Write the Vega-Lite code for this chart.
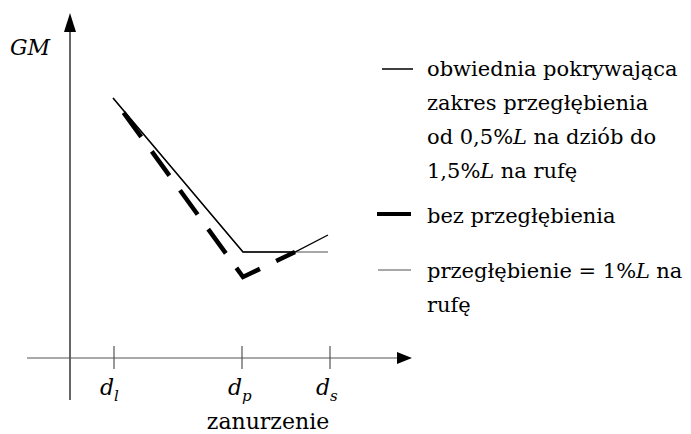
{
  "$schema": "https://vega.github.io/schema/vega-lite/v6.json",
  "width": 691,
  "height": 434,
  "autosize": "none",
  "padding": 0,
  "background": "white",
  "config": {"view": {"stroke": null}},
  "datasets": {
    "curves": [
      {"s": "trym1", "i": 0, "x": 4.3, "y": 26.0},
      {"s": "trym1", "i": 1, "x": 17.3, "y": 10.6},
      {"s": "trym1", "i": 2, "x": 25.8, "y": 10.6},
      {"s": "bez", "i": 0, "x": 4.3, "y": 26.0},
      {"s": "bez", "i": 1, "x": 17.3, "y": 8.1},
      {"s": "bez", "i": 2, "x": 22.5, "y": 10.6},
      {"s": "obwiednia", "i": 0, "x": 4.3, "y": 26.0},
      {"s": "obwiednia", "i": 1, "x": 17.3, "y": 10.6},
      {"s": "obwiednia", "i": 2, "x": 22.5, "y": 10.6},
      {"s": "obwiednia", "i": 3, "x": 25.8, "y": 12.3}
    ],
    "rules": [
      {"k": "yaxis", "x": 0, "x2": 0, "y": -4.2, "y2": 32.8},
      {"k": "xaxis", "x": -4.3, "x2": 32.7, "y": 0, "y2": 0},
      {"k": "tick", "x": 4.4, "x2": 4.4, "y": -1.1, "y2": 1.2},
      {"k": "tick", "x": 17.2, "x2": 17.2, "y": -1.1, "y2": 1.2},
      {"k": "tick", "x": 26.0, "x2": 26.0, "y": -1.1, "y2": 1.2},
      {"k": "obwiednia", "x": 31.2, "x2": 34.3, "y": 28.9, "y2": 28.9},
      {"k": "bez", "x": 30.7, "x2": 34.1, "y": 14.4, "y2": 14.4},
      {"k": "trym1", "x": 30.8, "x2": 34.1, "y": 8.8, "y2": 8.8}
    ],
    "arrows": [
      {"k": "up", "x": 0, "y": 33.55},
      {"k": "right", "x": 33.45, "y": 0}
    ],
    "labels": [
      {"k": "gm", "t": "GM", "x": -6.0, "y": 30.3},
      {"k": "tickd", "t": "d", "x": 4.4, "y": -3.7},
      {"k": "tickd", "t": "d", "x": 17.2, "y": -3.7},
      {"k": "tickd", "t": "d", "x": 26.0, "y": -3.7},
      {"k": "sub", "t": "l", "x": 4.4, "y": -4.3},
      {"k": "sub", "t": "p", "x": 17.2, "y": -4.3},
      {"k": "sub", "t": "s", "x": 26.0, "y": -4.3},
      {"k": "title", "t": "zanurzenie", "x": 19.8, "y": -7.1},
      {"k": "text", "t": "obwiednia pokrywająca", "x": 35.7, "y": 28.2},
      {"k": "text", "t": "zakres przegłębienia", "x": 35.7, "y": 24.8},
      {"k": "text", "t": "od 0,5%", "x": 35.7, "y": 21.4},
      {"k": "math", "t": "L", "x": 44.3, "y": 21.4},
      {"k": "text", "t": "na dziób do", "x": 46.34, "y": 21.4},
      {"k": "text", "t": "1,5%", "x": 35.7, "y": 18.0},
      {"k": "math", "t": "L", "x": 41.03, "y": 18.0},
      {"k": "text", "t": "na rufę", "x": 43.07, "y": 18.0},
      {"k": "text", "t": "bez przegłębienia", "x": 35.7, "y": 13.5},
      {"k": "text", "t": "przegłębienie = 1%", "x": 35.7, "y": 8.0},
      {"k": "math", "t": "L", "x": 56.59, "y": 8.0},
      {"k": "text", "t": "na", "x": 58.63, "y": 8.0},
      {"k": "text", "t": "rufę", "x": 35.7, "y": 4.6}
    ]
  },
  "encoding": {
    "x": {"field": "x", "type": "quantitative", "scale": {"domain": [-7.0, 62.1], "nice": false, "zero": false}, "axis": null},
    "y": {"field": "y", "type": "quantitative", "scale": {"domain": [-7.6, 35.8], "nice": false, "zero": false}, "axis": null}
  },
  "layer": [
    {
      "data": {"name": "rules"},
      "transform": [{"filter": "datum.k === 'yaxis'"}],
      "mark": {"type": "rule", "color": "black", "strokeWidth": 1.2},
      "encoding": {"x2": {"field": "x2"}, "y2": {"field": "y2"}}
    },
    {
      "data": {"name": "rules"},
      "transform": [{"filter": "datum.k === 'xaxis' || datum.k === 'tick'"}],
      "mark": {"type": "rule", "color": "#555555", "strokeWidth": 1.2},
      "encoding": {"x2": {"field": "x2"}, "y2": {"field": "y2"}}
    },
    {
      "data": {"name": "arrows"},
      "transform": [{"filter": "datum.k === 'up'"}],
      "mark": {"type": "point", "shape": "M0,-1L0.63,1L-0.63,1Z", "size": 361, "filled": true, "color": "black", "opacity": 1}
    },
    {
      "data": {"name": "arrows"},
      "transform": [{"filter": "datum.k === 'right'"}],
      "mark": {"type": "point", "shape": "M1,0L-1,-0.8L-1,0.8Z", "size": 225, "filled": true, "color": "black", "opacity": 1}
    },
    {
      "data": {"name": "curves"},
      "transform": [{"filter": "datum.s === 'trym1'"}],
      "mark": {"type": "line", "color": "#8a8a8a", "strokeWidth": 1.3},
      "encoding": {"order": {"field": "i"}}
    },
    {
      "data": {"name": "curves"},
      "transform": [{"filter": "datum.s === 'bez'"}],
      "mark": {"type": "line", "color": "black", "strokeWidth": 4.5, "strokeDash": [30, 18], "strokeDashOffset": 30, "strokeCap": "butt", "strokeJoin": "miter"},
      "encoding": {"order": {"field": "i"}}
    },
    {
      "data": {"name": "curves"},
      "transform": [{"filter": "datum.s === 'obwiednia'"}],
      "mark": {"type": "line", "color": "black", "strokeWidth": 1.4},
      "encoding": {"order": {"field": "i"}}
    },
    {
      "data": {"name": "rules"},
      "transform": [{"filter": "datum.k === 'obwiednia'"}],
      "mark": {"type": "rule", "color": "black", "strokeWidth": 1.5},
      "encoding": {"x2": {"field": "x2"}, "y2": {"field": "y2"}}
    },
    {
      "data": {"name": "rules"},
      "transform": [{"filter": "datum.k === 'bez'"}],
      "mark": {"type": "rule", "color": "black", "strokeWidth": 4},
      "encoding": {"x2": {"field": "x2"}, "y2": {"field": "y2"}}
    },
    {
      "data": {"name": "rules"},
      "transform": [{"filter": "datum.k === 'trym1'"}],
      "mark": {"type": "rule", "color": "#8a8a8a", "strokeWidth": 1.3},
      "encoding": {"x2": {"field": "x2"}, "y2": {"field": "y2"}}
    },
    {
      "data": {"name": "labels"},
      "transform": [{"filter": "datum.k === 'text'"}],
      "mark": {"type": "text", "align": "left", "baseline": "alphabetic", "font": "DejaVu Serif", "fontSize": 21, "color": "black"},
      "encoding": {"text": {"field": "t"}}
    },
    {
      "data": {"name": "labels"},
      "transform": [{"filter": "datum.k === 'math'"}],
      "mark": {"type": "text", "align": "left", "baseline": "alphabetic", "font": "DejaVu Serif", "fontStyle": "italic", "fontSize": 21, "color": "black"},
      "encoding": {"text": {"field": "t"}}
    },
    {
      "data": {"name": "labels"},
      "transform": [{"filter": "datum.k === 'gm'"}],
      "mark": {"type": "text", "align": "left", "baseline": "alphabetic", "font": "DejaVu Serif", "fontStyle": "italic", "fontSize": 22, "color": "black"},
      "encoding": {"text": {"field": "t"}}
    },
    {
      "data": {"name": "labels"},
      "transform": [{"filter": "datum.k === 'tickd'"}],
      "mark": {"type": "text", "align": "right", "baseline": "alphabetic", "font": "DejaVu Serif", "fontStyle": "italic", "fontSize": 22, "color": "black"},
      "encoding": {"text": {"field": "t"}}
    },
    {
      "data": {"name": "labels"},
      "transform": [{"filter": "datum.k === 'sub'"}],
      "mark": {"type": "text", "align": "left", "baseline": "alphabetic", "font": "DejaVu Serif", "fontStyle": "italic", "fontSize": 15, "color": "black"},
      "encoding": {"text": {"field": "t"}}
    },
    {
      "data": {"name": "labels"},
      "transform": [{"filter": "datum.k === 'title'"}],
      "mark": {"type": "text", "align": "center", "baseline": "alphabetic", "font": "DejaVu Serif", "fontSize": 22, "color": "black"},
      "encoding": {"text": {"field": "t"}}
    }
  ]
}
